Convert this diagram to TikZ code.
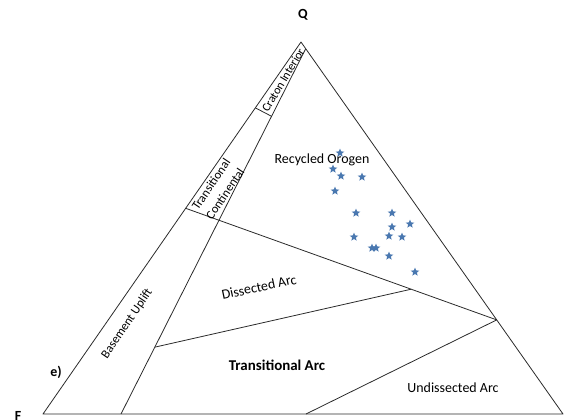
\documentclass[tikz,border=0pt]{standalone}
\usepackage{fontspec}
\setmainfont{Carlito}
\usepackage{tikz}
\usetikzlibrary{calc,shapes.geometric}
\definecolor{QFLLine}{HTML}{2A2A2A}
\definecolor{QFLStar}{HTML}{4A78B0}

\begin{document}
\begin{tikzpicture}[
  x=1bp, y=-1bp,
  qfledge/.style={draw=QFLLine, line width=0.8pt, line join=round},
  qfllabel/.style={font=\fontsize{14}{16}\selectfont, inner sep=0pt, align=center},
  qflband/.style={font=\fontsize{12.5}{17}\selectfont, inner sep=0pt, align=center},
  qflcorner/.style={font=\fontsize{14}{16}\selectfont\bfseries, inner sep=0pt},
  qflsample/.style={star, star points=5, star point ratio=2.3, fill=QFLStar, draw=none, minimum size=9bp, inner sep=0pt}
]
\useasboundingbox (0,0) rectangle (581,419);
% corners and field boundaries
\coordinate (Q) at (301,42);
\coordinate (F) at (43,414);
\coordinate (L) at (563,414);
\coordinate (qi) at ($(Q)!0.018!(L)$);
\coordinate (fb) at (121,414);
\coordinate (c1) at ($(Q)!0.177!(F)$);
\coordinate (c2) at ($(qi)!0.185!(fb)$);
\coordinate (t1) at ($(Q)!0.447!(F)$);
\coordinate (r1) at ($(Q)!0.747!(L)$);
\coordinate (t2) at (intersection of t1--r1 and qi--fb);
\coordinate (d2) at ($(t1)!0.725!(r1)$);
\coordinate (d1) at ($(qi)!0.817!(fb)$);
\coordinate (u1) at (306,414);

\draw[qfledge] (Q) -- (F) -- (L) -- cycle;
\draw[qfledge] (qi) -- (fb);
\draw[qfledge] (c1) -- (c2);
\draw[qfledge] (t1) -- (r1);
\draw[qfledge] (d1) -- (d2);
\draw[qfledge] (r1) -- (u1);

% corner labels
\node[qflcorner] (qlab) at (303,15) {Q};
\node[qflcorner] (flab) at (18,416) {F};
\node[qflcorner] (plab) at (56,372) {e)};

% field labels
\node[qfllabel] (recycled) at (322,160) {Recycled Orogen};
\node[qfllabel, rotate=12] (dissected) at (259,287) {Dissected Arc};
\node[qfllabel, font=\fontsize{15}{17}\selectfont\bfseries] (transarc) at (277,365) {Transitional Arc};
\node[qfllabel] (undissected) at (453,388) {Undissected Arc};
\node[qflband, rotate=56] (basement) at (127,324) {Basement Uplift};
\node[qflband, font=\fontsize{12}{14}\selectfont, rotate=59] (craton) at (283,80) {Craton Interior};
\node[qflband, rotate=56] (transcont) at (218,189) {Transitional\\Continental};

% samples
\foreach \sx/\sy [count=\i] in {340/153, 333/169, 341/176, 362/177, 335/191,
  356/213, 392/213, 410/224, 392/227, 354/237, 389/236, 402/237,
  372/248, 376/248, 389/256, 415/272}
  \node[qflsample] (s\i) at (\sx,\sy) {};
\end{tikzpicture}
\end{document}
